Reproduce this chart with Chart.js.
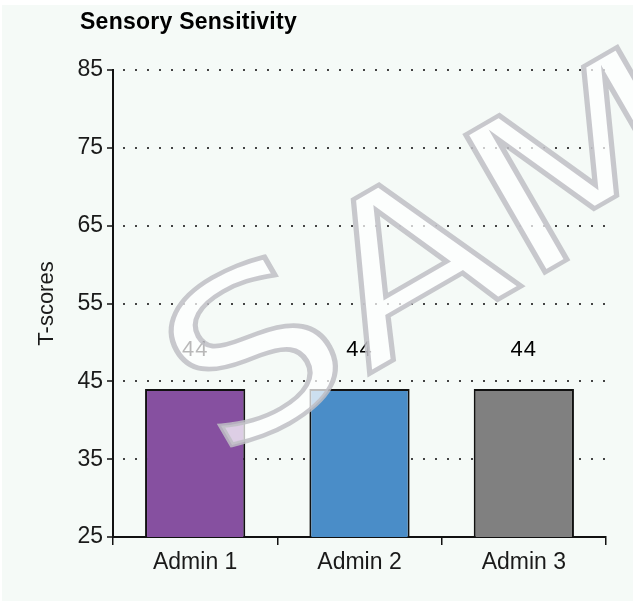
<!DOCTYPE html>
<html>
<head>
<meta charset="utf-8">
<script src="https://cdn.jsdelivr.net/npm/chart.js@4"></script>
<style>
  html, body { margin: 0; padding: 0; background: #ffffff; }
  #wrap { position: relative; width: 633px; height: 603px; }
</style>
</head>
<body>
<div id="wrap"><canvas id="graficoSensorial" width="633" height="603"></canvas></div>
<script>
// Dados do gráfico
var categorias = ['Admin 1', 'Admin 2', 'Admin 3'];
var tScores = [44, 44, 44];
var coresBarras = ['#8650a0', '#4a8dc8', '#808080'];
var tituloGrafico = 'Sensory Sensitivity';
var tituloEixoY = 'T-scores';
var marcaDagua = 'SAMPLE';

var fonteBase = '"Liberation Sans", Arial, sans-serif';

// Fundo esverdeado claro e título
var fundoPlugin = {
    id: 'fundo',
    beforeDraw: function (chart) {
        var ctx = chart.ctx;
        ctx.save();
        ctx.fillStyle = '#f5faf7';
        ctx.fillRect(2, 5, chart.width - 2, chart.height - 7);
        ctx.fillStyle = '#000000';
        ctx.font = 'bold 23px ' + fonteBase;
        ctx.textBaseline = 'alphabetic';
        ctx.letterSpacing = '0.25px';
        ctx.fillText(tituloGrafico, 80, 29);
        ctx.restore();
    }
};

// Rótulos de valor acima das barras
var rotulosPlugin = {
    id: 'rotulos',
    afterDatasetsDraw: function (chart) {
        var ctx = chart.ctx;
        var meta = chart.getDatasetMeta(0);
        ctx.save();
        ctx.fillStyle = '#000000';
        ctx.font = '22px ' + fonteBase;
        ctx.textAlign = 'center';
        ctx.textBaseline = 'middle';
        ctx.letterSpacing = '1px';
        meta.data.forEach(function (barra, i) {
            ctx.fillText(String(tScores[i]), barra.x, barra.y - 39);
        });
        ctx.restore();
    }
};

// Marca d'água "SAMPLE" por cima de tudo
var marcaPlugin = {
    id: 'marca',
    afterDraw: function (chart) {
        var ctx = chart.ctx;
        ctx.save();
        ctx.translate(220, 460);
        ctx.rotate(-30 * Math.PI / 180);
        ctx.scale(1.2, 1);
        ctx.font = '218px "DejaVu Sans", sans-serif';
        ctx.textBaseline = 'alphabetic';
        ctx.fillStyle = 'rgba(255,255,255,0.72)';
        ctx.fillText(marcaDagua, 0, 0);
        ctx.strokeStyle = 'rgba(190,190,196,0.85)';
        ctx.lineWidth = 4.5;
        ctx.strokeText(marcaDagua, 0, 0);
        ctx.restore();
    }
};

var ctx = document.getElementById('graficoSensorial').getContext('2d');

var grafico = new Chart(ctx, {
    type: 'bar',
    data: {
        labels: categorias,
        datasets: [{
            label: tituloEixoY,
            data: tScores,
            backgroundColor: coresBarras,
            borderColor: '#111111',
            borderWidth: 2,
            borderSkipped: false,
            barPercentage: 0.61,
            categoryPercentage: 1.0
        }]
    },
    options: {
        responsive: false,
        animation: false,
        layout: {
            padding: { top: 70, right: 27, bottom: 0, left: 0 }
        },
        plugins: {
            legend: { display: false },
            tooltip: { enabled: false },
            title: { display: false }
        },
        scales: {
            x: {
                grid: {
                    offset: true,
                    drawOnChartArea: false,
                    color: '#111111',
                    lineWidth: 1.5,
                    tickLength: 8
                },
                border: { color: '#111111', width: 2 },
                ticks: {
                    color: '#1a1a1a',
                    padding: 4,
                    font: { family: fonteBase, size: 23 }
                },
                afterFit: function (escala) { escala.height = 66; }
            },
            y: {
                min: 25,
                max: 85,
                ticks: {
                    stepSize: 10,
                    color: '#1a1a1a',
                    padding: 4,
                    font: { family: fonteBase, size: 23 }
                },
                grid: {
                    color: '#444444',
                    lineWidth: 2,
                    tickBorderDash: [],
                    tickColor: '#111111',
                    tickWidth: 1.5,
                    tickLength: 6
                },
                border: { color: '#111111', width: 2, dash: [2, 10], dashOffset: 3 },
                title: {
                    display: true,
                    text: tituloEixoY,
                    color: '#1a1a1a',
                    padding: { top: 34, bottom: 0 },
                    font: { family: fonteBase, size: 22 }
                },
                afterFit: function (escala) { escala.width = 113; }
            }
        }
    },
    plugins: [fundoPlugin, rotulosPlugin, marcaPlugin]
});
</script>
</body>
</html>
